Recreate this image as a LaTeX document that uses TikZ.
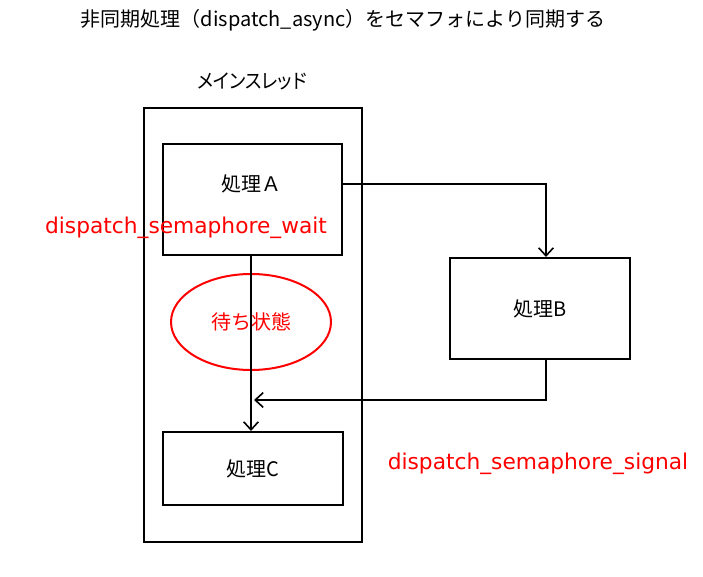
\documentclass[tikz,border=0pt]{standalone}
\usepackage{fontspec}
\setmainfont{Noto Sans CJK JP}
\newfontfamily\jppalt[RawFeature=+palt]{Noto Sans CJK JP}
\newfontfamily\latinlbl{DejaVu Sans}
\usetikzlibrary{arrows.meta,shapes.geometric}
\begin{document}
\begin{tikzpicture}[x=0.75pt,y=-0.75pt,
  box/.style={draw,line width=1.5pt,inner sep=0pt},
  conn/.style={line width=1.5pt,-{Straight Barb[length=6pt,width=11pt,line width=1.2pt]}},
  redlabel/.style={text=red,font=\latinlbl\fontsize{16.3}{19}\selectfont,inner sep=0pt},
  lbl/.style={font=\fontsize{15}{18}\selectfont,inner sep=0pt}]
\useasboundingbox (0,0) rectangle (703,577);
\fill[white] (0,0) rectangle (703,577);
\node[box,minimum width=218*0.75pt,minimum height=434*0.75pt] (main) at (253,325) {};
\node[box,minimum width=179*0.75pt,minimum height=111*0.75pt,lbl] (A) at (252.5,199.5) {};
\node[lbl] (Alabel) at (251,184) {処理Ａ};
\node[box,minimum width=180*0.75pt,minimum height=101*0.75pt,lbl] (B) at (540,308.5) {処理B};
\node[box,minimum width=180*0.75pt,minimum height=73*0.75pt,lbl] (C) at (253,468.5) {処理C};
\node[draw=red,line width=1.5pt,ellipse,minimum width=160*0.75pt,minimum height=96*0.75pt,text=red,font=\fontsize{15}{18}\selectfont,inner sep=0pt] (wait) at (251,322) {待ち状態};
\node[lbl,font=\jppalt\fontsize{15}{18}\selectfont] (thread) at (252,81) {\scalebox{0.915}[1]{メインスレッド}};
\node[lbl] (title) at (343,20) {非同期処理（dispatch\_async）をセマフォにより同期する};
\coordinate (ab) at (546,184);
\coordinate (bc) at (546,400);
\coordinate (ctip) at (254,400);
\draw[conn] (A.east |- ab) -- (ab) -- (B.north -| ab);
\draw[conn] (A.south -| wait) -- (C.north -| wait);
\draw[conn] (B.south -| bc) -- (bc) -- (ctip);
\node[redlabel] (lw) at (186,228) {dispatch\_semaphore\_wait};
\node[redlabel] (ls) at (538,463.5) {dispatch\_semaphore\_signal};
\end{tikzpicture}
\end{document}
